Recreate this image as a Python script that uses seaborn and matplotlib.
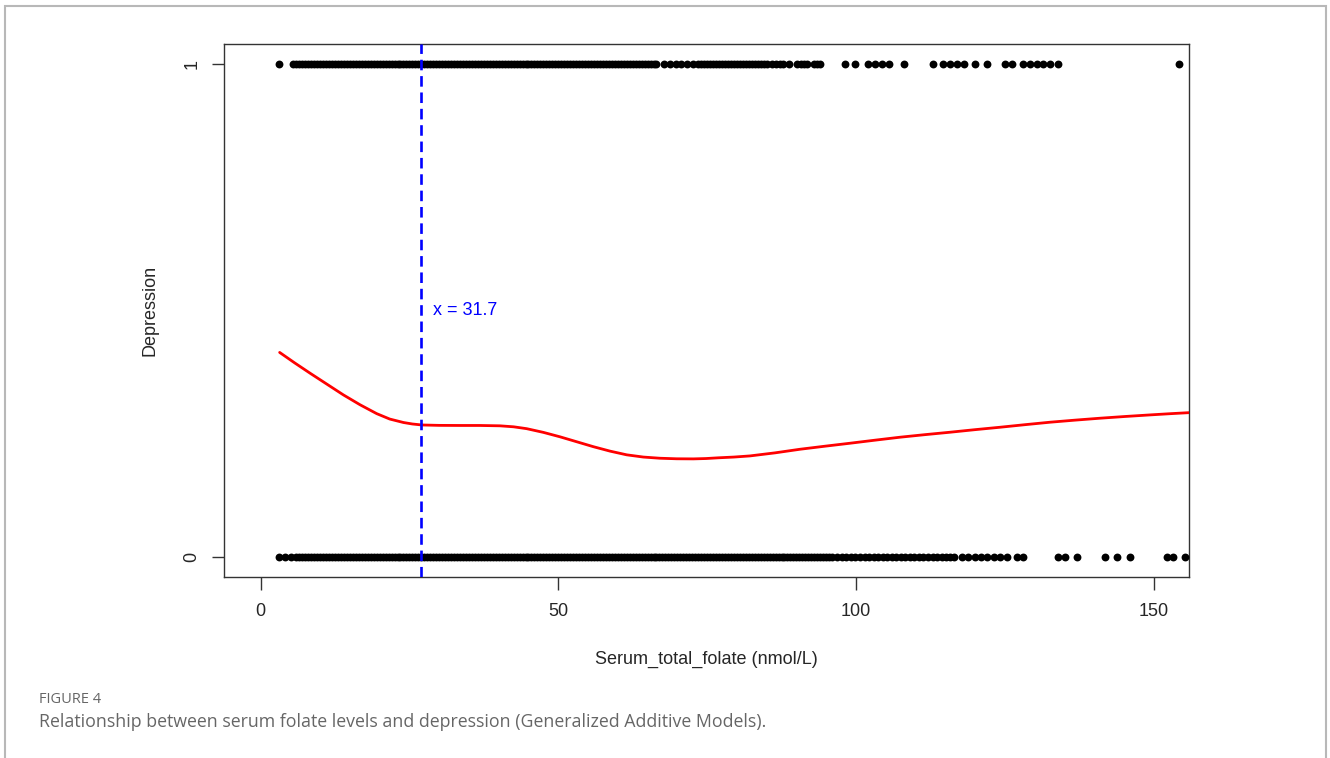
import numpy as np
import pandas as pd
import matplotlib
matplotlib.use("Agg")
import matplotlib.pyplot as plt
import matplotlib.patches as mpatches
import seaborn as sns

# observed folate values (nmol/L) for depression = 1
folate_dep1 = [
    3.1,
    5.5, 6.0, 6.5, 7.0, 7.5, 8.0, 8.5, 9.0, 9.5, 10.0, 10.5, 11.0, 11.5, 12.0, 12.5,
    13.0, 13.5, 14.0, 14.5, 15.0, 15.5, 16.0, 16.5, 17.0, 17.5, 18.0, 18.5, 19.0, 19.5,
    20.0, 20.5, 21.0, 21.5, 22.0, 22.5, 23.0, 23.5, 24.0, 24.5, 25.0, 25.5, 26.0, 26.5,
    27.0, 27.5, 28.0, 28.5, 29.0, 29.5, 30.0, 30.5, 31.0, 31.5, 32.0, 32.5, 33.0, 33.5,
    34.0, 34.5, 35.0, 35.5, 36.0, 36.5, 37.0, 37.5, 38.0, 38.5, 39.0, 39.5, 40.0, 40.5,
    41.0, 41.5, 42.0, 42.5, 43.0, 43.5, 44.0, 44.5, 45.0, 45.5, 46.0, 46.5, 47.0, 47.5,
    48.0, 48.5, 49.0, 49.5, 50.0, 50.5, 51.0, 51.5, 52.0, 52.5, 53.0, 53.5, 54.0, 54.5,
    55.0, 55.5, 56.0, 56.5, 57.0, 57.5, 58.0, 58.5, 59.0, 59.5, 60.0, 60.5, 61.0, 61.5,
    62.0, 62.5, 63.0, 63.5, 64.0, 64.5, 65.0, 65.5, 66.0, 66.5,
    67.8, 68.8, 69.8, 70.7, 71.7, 72.6, 73.5,
    74.0, 74.5, 75.0, 75.5, 76.0, 76.5, 77.0, 77.5, 78.0, 78.5, 79.0, 79.5, 80.0, 80.5,
    81.0, 81.5, 82.0, 82.5, 83.0, 83.5, 84.0, 84.5, 85.0,
    85.9, 86.5, 87.2, 87.8, 88.7, 90.1, 90.7, 91.2, 91.8, 92.9, 93.5, 94.0,
    98.2, 99.9, 102.1, 103.2, 104.4, 105.5, 108.0, 113.0,
    114.7, 115.8, 116.9, 118.1, 120.0, 122.0, 125.1, 126.2,
    128.1, 129.3, 130.4, 131.5, 132.6, 134.0, 154.2,
]

# observed folate values (nmol/L) for depression = 0
folate_dep0 = [
    3.1, 4.1, 5.1,
    6.0, 6.5, 7.0, 7.5, 8.0, 8.5, 9.0, 9.5, 10.0, 10.5, 11.0, 11.5, 12.0, 12.5,
    13.0, 13.5, 14.0, 14.5, 15.0, 15.5, 16.0, 16.5, 17.0, 17.5, 18.0, 18.5, 19.0, 19.5,
    20.0, 20.5, 21.0, 21.5, 22.0, 22.5, 23.0, 23.5, 24.0, 24.5, 25.0, 25.5, 26.0, 26.5,
    27.0, 27.5, 28.0, 28.5, 29.0, 29.5, 30.0, 30.5, 31.0, 31.5, 32.0, 32.5, 33.0, 33.5,
    34.0, 34.5, 35.0, 35.5, 36.0, 36.5, 37.0, 37.5, 38.0, 38.5, 39.0, 39.5, 40.0, 40.5,
    41.0, 41.5, 42.0, 42.5, 43.0, 43.5, 44.0, 44.5, 45.0, 45.5, 46.0, 46.5, 47.0, 47.5,
    48.0, 48.5, 49.0, 49.5, 50.0, 50.5, 51.0, 51.5, 52.0, 52.5, 53.0, 53.5, 54.0, 54.5,
    55.0, 55.5, 56.0, 56.5, 57.0, 57.5, 58.0, 58.5, 59.0, 59.5, 60.0, 60.5, 61.0, 61.5,
    62.0, 62.5, 63.0, 63.5, 64.0, 64.5, 65.0, 65.5, 66.0, 66.5, 67.0, 67.5, 68.0, 68.5,
    69.0, 69.5, 70.0, 70.5, 71.0, 71.5, 72.0, 72.5, 73.0, 73.5, 74.0, 74.5, 75.0, 75.5,
    76.0, 76.5, 77.0, 77.5, 78.0, 78.5, 79.0, 79.5, 80.0, 80.5, 81.0, 81.5, 82.0, 82.5,
    83.0, 83.5, 84.0, 84.5, 85.0, 85.5, 86.0, 86.5, 87.0, 87.5, 88.0, 88.5, 89.0, 89.5,
    90.0, 90.5, 91.0, 91.5, 92.0, 92.5, 93.0, 93.5, 94.0, 94.5, 95.0, 95.5, 96.0,
    96.9, 97.7, 98.4, 99.2, 99.9, 100.7, 101.5, 102.2, 103.0, 103.7, 104.5, 105.3,
    106.0, 106.8, 107.5, 108.3, 109.1, 109.8, 110.6, 111.3, 112.1, 112.9, 113.6,
    114.4, 115.1, 115.8, 116.4,
    117.8, 118.9, 120.0, 121.0, 122.1, 123.2, 124.2, 125.3, 127.0, 128.1,
    134.0, 135.1, 137.1, 141.9, 143.8, 146.1, 152.2, 153.3, 155.3,
]

# GAM fitted curve
curve_x = [3.2, 5.7, 8.3, 11.1, 13.9, 16.7, 19.5, 21.7, 24.0, 25.5, 27.1, 30.0, 33.5,
           36.8, 40.2, 42.5, 44.7, 47.5, 50.3, 53.1, 55.9, 58.7, 61.5, 64.3, 67.1,
           69.9, 72.7, 74.8, 76.9, 79.5, 82.2, 86.4, 90.6, 94.8, 99.0, 103.2, 107.4,
           111.6, 115.8, 120.0, 124.2, 128.4, 132.6, 136.8, 141.0, 145.2, 149.4,
           152.7, 156.0]
curve_y = [0.415, 0.394, 0.373, 0.351, 0.329, 0.309, 0.291, 0.280, 0.273, 0.270,
           0.268, 0.2672, 0.2670, 0.2670, 0.2663, 0.2643, 0.2605, 0.2530, 0.2440,
           0.2340, 0.2240, 0.2150, 0.2075, 0.2030, 0.2006, 0.1995, 0.1993, 0.2000,
           0.2015, 0.2030, 0.2053, 0.2115, 0.2188, 0.2250, 0.2310, 0.2372, 0.2432,
           0.2484, 0.2533, 0.2585, 0.2634, 0.2686, 0.2736, 0.2778, 0.2817, 0.2852,
           0.2884, 0.2908, 0.2930]

threshold_pos = 27.0
threshold_label = "x = 31.7"

x_ticks = [0, 50, 100, 150]
y_ticks = [0, 1]

pts = pd.DataFrame({
    "folate": folate_dep1 + folate_dep0,
    "depression": [1] * len(folate_dep1) + [0] * len(folate_dep0),
})
fit = pd.DataFrame({"folate": curve_x, "depression": curve_y})

sns.set_style("white")
plt.rcParams["font.family"] = ["Liberation Sans", "DejaVu Sans"]

fig = plt.figure(figsize=(13.3, 7.58), dpi=100)
ax = fig.add_axes([0.1684, 0.2388, 0.7256, 0.7032])

sns.scatterplot(data=pts, x="folate", y="depression", color="black", s=32,
                linewidth=0, ax=ax, zorder=3, clip_on=True)
sns.lineplot(data=fit, x="folate", y="depression", color="#ff0000", lw=2.0,
             ax=ax, zorder=4, estimator=None, sort=True)
ax.axvline(threshold_pos, color="#0000ff", lw=1.9, dashes=(4.0, 2.2), zorder=5)
ax.text(threshold_pos + 2.0, 0.5, threshold_label, color="#0000ff", fontsize=13,
        va="center", ha="left")

ax.set_xlim(-6.15, 155.95)
ax.set_ylim(-0.04, 1.04)
ax.set_xticks(x_ticks)
ax.set_yticks(y_ticks)
ax.set_yticklabels([str(v) for v in y_ticks], rotation=90, va="center")
ax.tick_params(axis="both", direction="out", length=9, width=1, color="#333333",
               labelsize=13, pad=10, left=True, bottom=True)
ax.tick_params(axis="y", pad=8)
ax.set_xlabel("Serum_total_folate (nmol/L)", fontsize=13, labelpad=22)
ax.set_ylabel("Depression", fontsize=13, labelpad=18)
for sp in ax.spines.values():
    sp.set_color("#333333")
    sp.set_linewidth(1.0)

# caption
fig.text(0.029, 0.0775, "FIGURE 4", fontsize=10.5, color="#666666",
         family=["Open Sans", "DejaVu Sans"], va="center")
fig.text(0.029, 0.048,
         "Relationship between serum folate levels and depression (Generalized Additive Models).",
         fontsize=12.8, color="#666666", family=["Open Sans", "DejaVu Sans"], va="center")

# outer panel border
fig.patches.append(mpatches.Rectangle((0.0035, -0.05), 0.9935, 1.042,
                                      transform=fig.transFigure, fill=False,
                                      edgecolor="#b8b8b8", lw=1.5))

fig.savefig("out.png", dpi=100)
